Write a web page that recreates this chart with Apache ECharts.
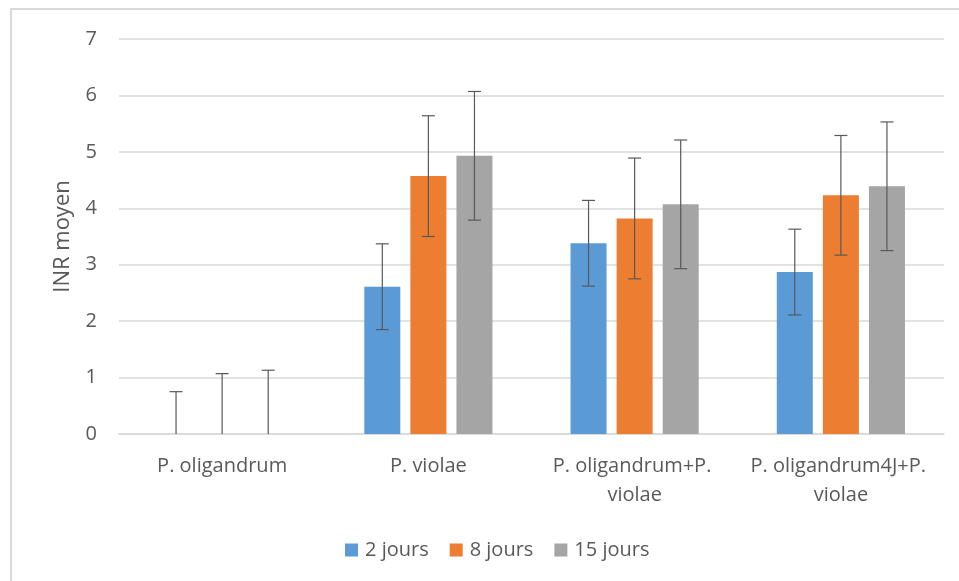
<!DOCTYPE html>
<html>
<head>
<meta charset="utf-8">
<script src="https://cdn.jsdelivr.net/npm/echarts@6/dist/echarts.min.js"></script>
<style>
  html, body { margin: 0; padding: 0; background: #fff; }
  #chart { width: 959px; height: 581px; }
</style>
</head>
<body>
<div id="chart"></div>
<script>
// données
var categories = ['P. oligandrum', 'P. violae', 'P. oligandrum+P. violae', 'P. oligandrum4J+P. violae'];
var seriesNames = ['2 jours', '8 jours', '15 jours'];
var values2j = [0, 2.61, 3.38, 2.87];
var values8j = [0, 4.57, 3.82, 4.23];
var values15j = [0, 4.93, 4.07, 4.39];
var errors2j = [0.75, 0.76, 0.76, 0.76];
var errors8j = [1.07, 1.07, 1.07, 1.06];
var errors15j = [1.13, 1.14, 1.14, 1.14];
var yTicks = [0, 1, 2, 3, 4, 5, 6, 7];

var colors = ['#5B9BD5', '#ED7D31', '#A5A5A5'];
var allValues = [values2j, values8j, values15j];
var allErrors = [errors2j, errors8j, errors15j];

var BAR_W = 36;
var BAR_GAP = 0.28;
var FONT = '"Open Sans", "Noto Sans", sans-serif';

var chart = echarts.init(document.getElementById('chart'));

// barres d'erreur (custom series), coupées à 0
function errorSeries(idx) {
  return {
    type: 'custom',
    silent: true,
    z: 10,
    renderItem: function (params, api) {
      var cat = api.value(0);
      var val = api.value(1);
      var err = api.value(2);
      var offset = (idx - 1) * BAR_W * (1 + BAR_GAP);
      var x = api.coord([cat, val])[0] + offset;
      var top = api.coord([cat, val + err])[1];
      var low = val - err;
      var bottom = api.coord([cat, Math.max(0, low)])[1];
      var capHalf = 6.5;
      var style = { stroke: '#595959', lineWidth: 1.2 };
      var children = [
        { type: 'line', shape: { x1: x, y1: top, x2: x, y2: bottom }, style: style },
        { type: 'line', shape: { x1: x - capHalf, y1: top, x2: x + capHalf, y2: top }, style: style }
      ];
      if (low >= 0) {
        children.push({ type: 'line', shape: { x1: x - capHalf, y1: bottom, x2: x + capHalf, y2: bottom }, style: style });
      }
      return { type: 'group', children: children };
    },
    data: categories.map(function (c, i) {
      return [i, allValues[idx][i], allErrors[idx][i]];
    })
  };
}

var series = [];
seriesNames.forEach(function (name, idx) {
  series.push({
    name: name,
    type: 'bar',
    data: allValues[idx],
    barWidth: BAR_W,
    barGap: (BAR_GAP * 100) + '%',
    itemStyle: { color: colors[idx] }
  });
});
seriesNames.forEach(function (name, idx) {
  series.push(errorSeries(idx));
});

var option = {
  animation: false,
  textStyle: { fontFamily: FONT },
  graphic: [{
    type: 'rect',
    silent: true,
    shape: { x: 11, y: 9, width: 1000, height: 1000 },
    style: { fill: 'none', stroke: '#D9D9D9', lineWidth: 2 }
  }],
  legend: {
    data: seriesNames,
    left: 340,
    top: 535,
    icon: 'rect',
    itemWidth: 13,
    itemHeight: 13,
    itemGap: 21,
    textStyle: { color: '#595959', fontSize: 20, fontFamily: FONT, padding: [0, 0, 0, 2] }
  },
  grid: {
    left: 119,
    right: 15,
    top: 39,
    bottom: 147
  },
  xAxis: {
    type: 'category',
    data: categories,
    axisLine: { lineStyle: { color: '#D9D9D9', width: 1.5 } },
    axisTick: { show: false },
    axisLabel: {
      interval: 0,
      color: '#595959',
      fontSize: 20,
      fontFamily: FONT,
      margin: 18,
      lineHeight: 29,
      width: 195,
      overflow: 'break'
    }
  },
  yAxis: {
    type: 'value',
    min: yTicks[0],
    max: yTicks[yTicks.length - 1],
    interval: 1,
    name: 'INR moyen',
    nameLocation: 'middle',
    nameGap: 45,
    nameTextStyle: { color: '#595959', fontSize: 22, fontFamily: FONT },
    axisLine: { show: false },
    axisTick: { show: false },
    axisLabel: { color: '#595959', fontSize: 20, fontFamily: FONT, margin: 22 },
    splitLine: { lineStyle: { color: '#D9D9D9', width: 1.5 } }
  },
  series: series
};

chart.setOption(option);
</script>
</body>
</html>
